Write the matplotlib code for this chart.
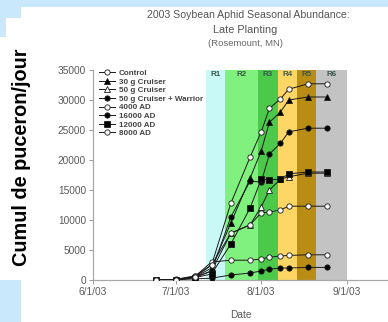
import matplotlib
matplotlib.use("Agg")
import matplotlib.pyplot as plt
from matplotlib.patches import Rectangle
import datetime as dt

plt.rcParams['font.family'] = ['Liberation Sans', 'DejaVu Sans']

# ---------------- data ----------------
sample_dates = ["2003-06-24", "2003-07-01", "2003-07-08", "2003-07-14", "2003-07-21",
                "2003-07-28", "2003-08-01", "2003-08-04", "2003-08-08", "2003-08-11",
                "2003-08-18", "2003-08-25"]

series_names = ["Control", "30 g Cruiser", "50 g Cruiser", "50 g Cruiser + Warrior",
                "4000 AD", "16000 AD", "12000 AD", "8000 AD"]

control   = [0, 100, 700, 2500, 12800, 20500, 24700, 28600, 30200, 31800, 32700, 32700]
cruiser30 = [0, 50, 500, 2000, 9500, 17000, 21500, 26300, 28000, 30000, 30500, 30500]
cruiser50 = [0, 50, 400, 1500, 7800, 9200, 12200, 15000, 16800, 17200, 17800, 17800]
cruiser50_warrior = [0, 20, 200, 300, 830, 1170, 1500, 1800, 2000, 2000, 2100, 2100]
ad4000    = [0, 80, 600, 3000, 3300, 3300, 3500, 3800, 4000, 4100, 4200, 4200]
ad16000   = [0, 60, 500, 1500, 10500, 16500, 16300, 21000, 22800, 24700, 25300, 25300]
ad12000   = [0, 40, 400, 1000, 6000, 12000, 16800, 16700, 16800, 17700, 18000, 18000]
ad8000    = [0, 60, 500, 2500, 7800, 9200, 11200, 11300, 11700, 12300, 12300, 12300]

stage_labels = ["R1", "R2", "R3", "R4", "R5", "R6"]
stage_starts = ["2003-07-12", "2003-07-19", "2003-07-31", "2003-08-07", "2003-08-14", "2003-08-21"]
stage_ends   = ["2003-07-19", "2003-07-31", "2003-08-07", "2003-08-14", "2003-08-21", "2003-09-01"]

x_ticks = ["2003-06-01", "2003-07-01", "2003-08-01", "2003-09-01"]
x_tick_labels = ["6/1/03", "7/1/03", "8/1/03", "9/1/03"]
y_ticks = [0, 5000, 10000, 15000, 20000, 25000, 30000, 35000]

# ---------------- styles ----------------
stage_colors = ["#c9f9f6", "#80f07e", "#4cc94a", "#fdd666", "#b98c14", "#c3c3c3"]
series_values = [control, cruiser30, cruiser50, cruiser50_warrior, ad4000, ad16000, ad12000, ad8000]
markers = ["o", "^", "^", "o", "o", "o", "s", "o"]
filled = [False, True, False, True, False, True, True, False]

def d(s):
    return dt.datetime.strptime(s, "%Y-%m-%d")

W, H = 388, 322
fig = plt.figure(figsize=(W / 100, H / 100), dpi=100)
fig.patch.set_facecolor("white")

# light blue decorative blocks
blue = "#cae8fb"
for (x0, y0, w, h) in [(0, 0, 388, 7), (0, 0, 21, 18), (0, 0, 6, 37), (0, 280, 21, 42)]:
    fig.patches.append(Rectangle((x0 / W, 1 - (y0 + h) / H), w / W, h / H,
                                 transform=fig.transFigure, facecolor=blue,
                                 edgecolor="none", zorder=0))

ax_left, ax_right, ax_bottom, ax_top = 93, 388, 280, 70
ax = fig.add_axes([ax_left / W, 1 - ax_bottom / H, (ax_right - ax_left) / W,
                   (ax_bottom - ax_top) / H])
ax.set_facecolor("none")

ax.set_xlim(d("2003-06-01"), d("2003-09-16"))
ax.set_ylim(0, 35000)

for lab, s, e, c in zip(stage_labels, stage_starts, stage_ends, stage_colors):
    ax.axvspan(d(s), d(e), ymin=0, ymax=1, facecolor=c, edgecolor="none", zorder=0)
    mid = d(s) + (d(e) - d(s)) / 2
    ax.text(mid, 34200, lab, ha="center", va="center", fontsize=5.8,
            fontweight="bold", color="#3a5a4a", zorder=1)

xs = [d(s) for s in sample_dates]
for name, vals, m, f in zip(series_names, series_values, markers, filled):
    ax.plot(xs, vals, color="#1a1a1a", lw=0.7, marker=m, ms=3.8,
            markerfacecolor=("black" if f else "white"), markeredgecolor="#1a1a1a",
            markeredgewidth=0.6, label=name, zorder=3)

ax.set_xticks([d(s) for s in x_ticks])
ax.set_xticklabels(x_tick_labels)
ax.set_yticks(y_ticks)
ax.tick_params(axis="both", labelsize=7.3, colors="#9a9a9a", labelcolor="#5a5a5a",
               length=3, width=0.7, pad=2)
for sp in ["top", "right"]:
    ax.spines[sp].set_visible(False)
for sp in ["left", "bottom"]:
    ax.spines[sp].set_color("#a8a8a8")
    ax.spines[sp].set_linewidth(0.9)

leg = ax.legend(loc="upper left", bbox_to_anchor=(0.0, 1.03), frameon=False,
                fontsize=5.8, handlelength=2.0, handletextpad=0.5,
                labelspacing=0.12, borderaxespad=0.3)
for t in leg.get_texts():
    t.set_color("#444444")
    t.set_fontweight("bold")

fig.text(241 / W, 1 - 315 / H, "Date", ha="center", va="center", fontsize=7.3,
         color="#5a5a5a")

fig.text(248 / W, 1 - 15 / H, "2003 Soybean Aphid Seasonal Abundance:",
         ha="center", va="center", fontsize=7.6, color="#555555")
fig.text(245 / W, 1 - 30 / H, "Late Planting", ha="center", va="center",
         fontsize=7.8, color="#555555")
fig.text(245 / W, 1 - 44 / H, "(Rosemount, MN)", ha="center", va="center",
         fontsize=6.8, color="#666666")

fig.text(22 / W, 1 - 157 / H, "Cumul de puceron/jour", rotation=90,
         ha="center", va="center", fontsize=14.3, fontweight="bold", color="black")

fig.savefig("out.png", dpi=100)
